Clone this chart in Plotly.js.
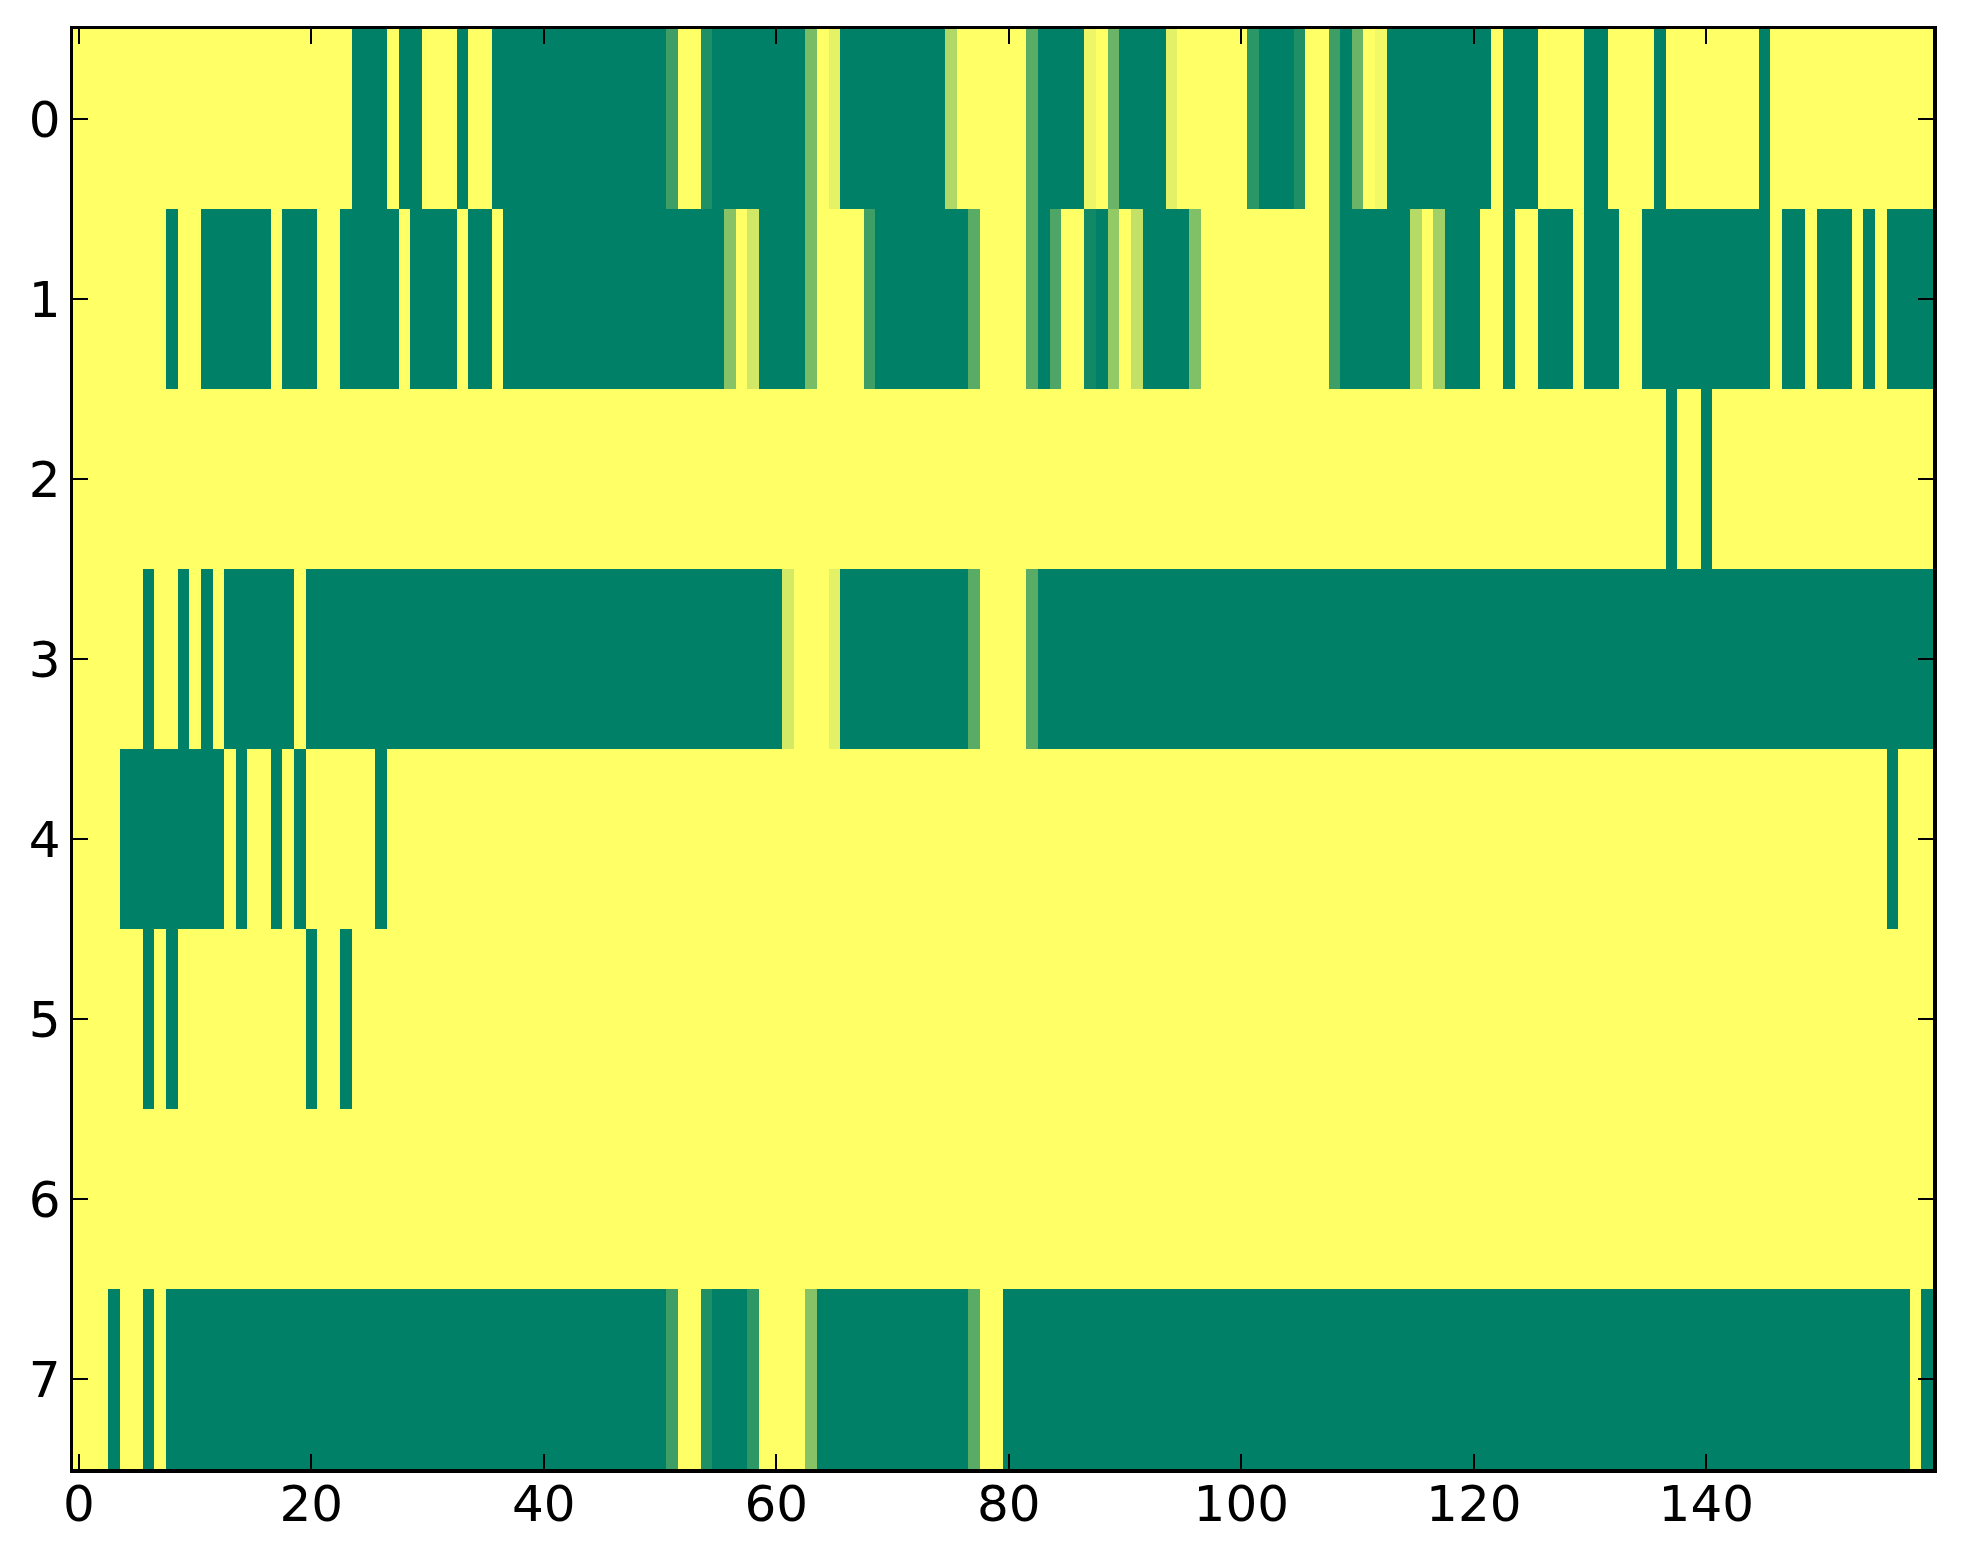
<!DOCTYPE html>
<html>
<head>
<meta charset="utf-8">
<script src="https://cdn.plot.ly/plotly-3.0.1.min.js"></script>
<style>html,body{margin:0;padding:0;background:#fff;}#chart{width:1963px;height:1564px;}</style>
</head>
<body>
<div id="chart"></div>
<script>
// Row values (0 = green, 1 = yellow, summer colormap), 160 columns each
const row0 = [
1,1,1,1,1,1,1,1,1,1,
1,1,1,1,1,1,1,1,1,1,
1,1,1,1,0,0,0,1,0,0,
1,1,1,0,1,1,0,0,0,0,
0,0,0,0,0,0,0,0,0,0,
0,0.24,1,1,0.12,0,0,0,0,0,
0,0,0,0.47,1,0.9,0,0,0,0,
0,0,0,0,0,0.69,1,1,1,1,
1,1,0.35,0,0,0,0,0.93,1,0.41,
0,0,0,0,0.89,1,1,1,1,1,
1,0.17,0,0,0,0.12,1,1,0.24,0,
0.41,1,0.95,0,0,0,0,0,0,0,
0,0,1,0,0,0,1,1,1,1,
0,0,1,1,1,1,0,1,1,1,
1,1,1,1,1,0,1,1,1,1,
1,1,1,1,1,1,1,1,1,1];
const row1 = [
1,1,1,1,1,1,1,1,0,1,
1,0,0,0,0,0,0,1,0,0,
0,1,1,0,0,0,0,0,1,0,
0,0,0,1,0,0,1,0,0,0,
0,0,0,0,0,0,0,0,0,0,
0,0,0,0,0,0,0.53,1,0.82,0,
0,0,0,0.47,1,1,1,1,0.24,0,
0,0,0,0,0,0,0,0.35,1,1,
1,1,0.35,0,0.3,1,1,0.07,0,0.58,
1,0.76,0,0,0,0,0.5,1,1,1,
1,1,1,1,1,1,1,1,0.24,0,
0,0,0,0,0,0.71,1,0.63,0,0,
0,1,1,0,1,1,0,0,0,1,
0,0,0,1,1,0,0,0,0,0,
0,0,0,0,0,0,1,0,0,1,
0,0,0,1,0,1,0,0,0,0];
const row2 = [
1,1,1,1,1,1,1,1,1,1,
1,1,1,1,1,1,1,1,1,1,
1,1,1,1,1,1,1,1,1,1,
1,1,1,1,1,1,1,1,1,1,
1,1,1,1,1,1,1,1,1,1,
1,1,1,1,1,1,1,1,1,1,
1,1,1,1,1,1,1,1,1,1,
1,1,1,1,1,1,1,1,1,1,
1,1,1,1,1,1,1,1,1,1,
1,1,1,1,1,1,1,1,1,1,
1,1,1,1,1,1,1,1,1,1,
1,1,1,1,1,1,1,1,1,1,
1,1,1,1,1,1,1,1,1,1,
1,1,1,1,1,1,1,0,1,1,
0,1,1,1,1,1,1,1,1,1,
1,1,1,1,1,1,1,1,1,1];
const row3 = [
1,1,1,1,1,1,0,1,1,0,
1,0,1,0,0,0,0,0,0,1,
0,0,0,0,0,0,0,0,0,0,
0,0,0,0,0,0,0,0,0,0,
0,0,0,0,0,0,0,0,0,0,
0,0,0,0,0,0,0,0,0,0,
0,0.83,1,1,1,0.89,0,0,0,0,
0,0,0,0,0,0,0,0.35,1,1,
1,1,0.35,0,0,0,0,0,0,0,
0,0,0,0,0,0,0,0,0,0,
0,0,0,0,0,0,0,0,0,0,
0,0,0,0,0,0,0,0,0,0,
0,0,0,0,0,0,0,0,0,0,
0,0,0,0,0,0,0,0,0,0,
0,0,0,0,0,0,0,0,0,0,
0,0,0,0,0,0,0,0,0,0];
const row4 = [
1,1,1,1,0,0,0,0,0,0,
0,0,0,1,0,1,1,0,1,0,
1,1,1,1,1,1,0,1,1,1,
1,1,1,1,1,1,1,1,1,1,
1,1,1,1,1,1,1,1,1,1,
1,1,1,1,1,1,1,1,1,1,
1,1,1,1,1,1,1,1,1,1,
1,1,1,1,1,1,1,1,1,1,
1,1,1,1,1,1,1,1,1,1,
1,1,1,1,1,1,1,1,1,1,
1,1,1,1,1,1,1,1,1,1,
1,1,1,1,1,1,1,1,1,1,
1,1,1,1,1,1,1,1,1,1,
1,1,1,1,1,1,1,1,1,1,
1,1,1,1,1,1,1,1,1,1,
1,1,1,1,1,1,0,1,1,1];
const row5 = [
1,1,1,1,1,1,0,1,0,1,
1,1,1,1,1,1,1,1,1,1,
0,1,1,0,1,1,1,1,1,1,
1,1,1,1,1,1,1,1,1,1,
1,1,1,1,1,1,1,1,1,1,
1,1,1,1,1,1,1,1,1,1,
1,1,1,1,1,1,1,1,1,1,
1,1,1,1,1,1,1,1,1,1,
1,1,1,1,1,1,1,1,1,1,
1,1,1,1,1,1,1,1,1,1,
1,1,1,1,1,1,1,1,1,1,
1,1,1,1,1,1,1,1,1,1,
1,1,1,1,1,1,1,1,1,1,
1,1,1,1,1,1,1,1,1,1,
1,1,1,1,1,1,1,1,1,1,
1,1,1,1,1,1,1,1,1,1];
const row6 = [
1,1,1,1,1,1,1,1,1,1,
1,1,1,1,1,1,1,1,1,1,
1,1,1,1,1,1,1,1,1,1,
1,1,1,1,1,1,1,1,1,1,
1,1,1,1,1,1,1,1,1,1,
1,1,1,1,1,1,1,1,1,1,
1,1,1,1,1,1,1,1,1,1,
1,1,1,1,1,1,1,1,1,1,
1,1,1,1,1,1,1,1,1,1,
1,1,1,1,1,1,1,1,1,1,
1,1,1,1,1,1,1,1,1,1,
1,1,1,1,1,1,1,1,1,1,
1,1,1,1,1,1,1,1,1,1,
1,1,1,1,1,1,1,1,1,1,
1,1,1,1,1,1,1,1,1,1,
1,1,1,1,1,1,1,1,1,1];
const row7 = [
1,1,1,0,1,1,0,1,0,0,
0,0,0,0,0,0,0,0,0,0,
0,0,0,0,0,0,0,0,0,0,
0,0,0,0,0,0,0,0,0,0,
0,0,0,0,0,0,0,0,0,0,
0,0.24,1,1,0.12,0,0,0,0.18,1,
1,1,1,0.53,0,0,0,0,0,0,
0,0,0,0,0,0,0,0.35,1,1,
0,0,0,0,0,0,0,0,0,0,
0,0,0,0,0,0,0,0,0,0,
0,0,0,0,0,0,0,0,0,0,
0,0,0,0,0,0,0,0,0,0,
0,0,0,0,0,0,0,0,0,0,
0,0,0,0,0,0,0,0,0,0,
0,0,0,0,0,0,0,0,0,0,
0,0,0,0,0,0,0,0,1,0];

const rowLabels = [0,1,2,3,4,5,6,7];
const xTickVals = [0,20,40,60,80,100,120,140];
const yTickVals = [0,1,2,3,4,5,6,7];

const zData = [row0,row1,row2,row3,row4,row5,row6,row7];

const trace = {
  type: 'heatmap',
  z: zData,
  y: rowLabels,
  colorscale: [[0,'rgb(0,128,102)'],[1,'rgb(255,255,102)']],
  zmin: 0, zmax: 1,
  showscale: false,
  zsmooth: false,
  hoverinfo: 'skip'
};

const axisCommon = {
  showline: true, linecolor: '#000', linewidth: 3.5, mirror: 'ticks',
  ticks: 'inside', ticklen: 15, tickwidth: 2, tickcolor: '#000',
  showgrid: false, zeroline: false,
  tickfont: {family: 'DejaVu Sans', size: 50, color: '#000'}
};

const layout = {
  width: 1963, height: 1564,
  margin: {l: 73, r: 30, t: 29, b: 95, pad: 0},
  paper_bgcolor: '#fff', plot_bgcolor: '#fff',
  showlegend: false,
  xaxis: Object.assign({}, axisCommon, {
    range: [-0.5, 159.5], tickmode: 'array', tickvals: xTickVals,
    ticktext: xTickVals.map(String), ticklabelstandoff: -12
  }),
  yaxis: Object.assign({}, axisCommon, {
    range: [7.5, -0.5], tickmode: 'array', tickvals: yTickVals,
    ticktext: yTickVals.map(String), ticklabelstandoff: -1
  })
};

Plotly.newPlot('chart', [trace], layout, {staticPlot: true, displayModeBar: false});
</script>
</body>
</html>
